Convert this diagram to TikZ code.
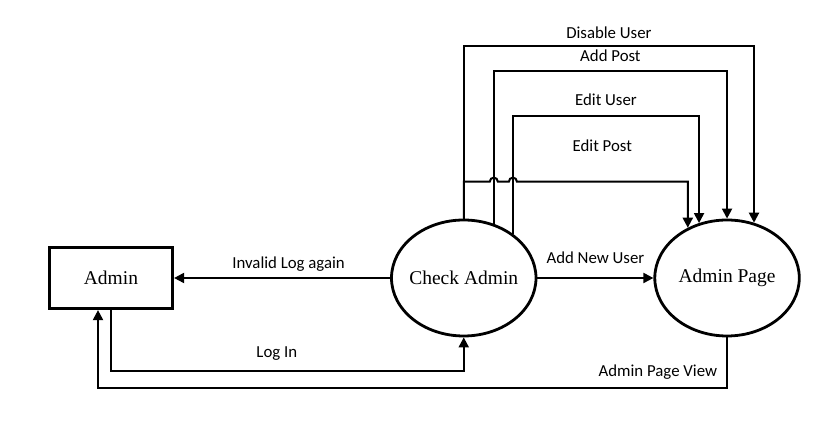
\documentclass[tikz,border=0pt]{standalone}
\usepackage{fontspec}
\setmainfont{Liberation Serif}
\newfontfamily\lblfont{Carlito}
\usetikzlibrary{shapes.geometric, arrows.meta, positioning, calc}

\begin{document}
\begin{tikzpicture}[
        x=1pt, y=1pt,
        node distance=216pt,
        entity/.style={rectangle, draw, line width=3.2pt, minimum width=123pt, minimum height=61pt, inner sep=0pt, font=\fontsize{19.5}{22}\selectfont},
        process/.style={ellipse, draw, line width=2.8pt, minimum width=144.5pt, minimum height=116pt, inner sep=0pt, inner xsep=-10pt, font=\fontsize{19.5}{22}\selectfont},
        flow/.style={-{Triangle[length=10pt, width=10pt]}, line width=2pt},
        lbl/.style={font=\lblfont\fontsize{16.8}{19}\selectfont}
    ]
        \useasboundingbox (0,0) rectangle (820,430);

        % NODES
        \node[entity] (admin) at (111,152) {Admin};
        \node[process] (check) [right=216pt of admin] {Check Admin};
        \node[process] (page) [right=116pt of check] {Admin Page};

        % MAIN LINE
        \draw[flow] (check) -- node[lbl, above=2pt, pos=0.47] {Invalid Log again} (admin);
        \draw[flow] (check) -- node[lbl, above=10.5pt] {Add New User} (page);
        \draw[flow] (admin.south) -- ++(0,-61) -| node[lbl, above=6.5pt, pos=0.235] {Log In} (check.south);
        \draw[flow] (page.south) -- ++(0,-51) -| node[lbl, above=4.5pt, pos=0.055] {Admin Page View} ([xshift=-13pt]admin.south);

        % LOOPS OVER THE TOP
        \draw[flow] (check.north) -- ++(0,173) -| node[lbl, above=2.5pt, pos=0.25] {Disable User} (page.64);
        \draw[flow] (check.61) -- ++(0,153) -| node[lbl, above=4.5pt, pos=0.25] {Add Post} (page.north);
        \draw[flow] (check.42) -- ++(0,118) -| node[lbl, above=5.5pt, pos=0.25] {Edit User} (page.117);

        % line jumps where it crosses the two loops
        \draw[flow] (check.north) -- ++(0,37) coordinate (ep)
            -- ($(ep -| check.61)+(-4,0)$) arc[start angle=180, end angle=0, radius=4pt]
            -- ($(ep -| check.42)+(-4,0)$) arc[start angle=180, end angle=0, radius=4pt]
            -| node[lbl, above=25.5pt, pos=0.25] {Edit Post} (page.128);
    \end{tikzpicture}
\end{document}
